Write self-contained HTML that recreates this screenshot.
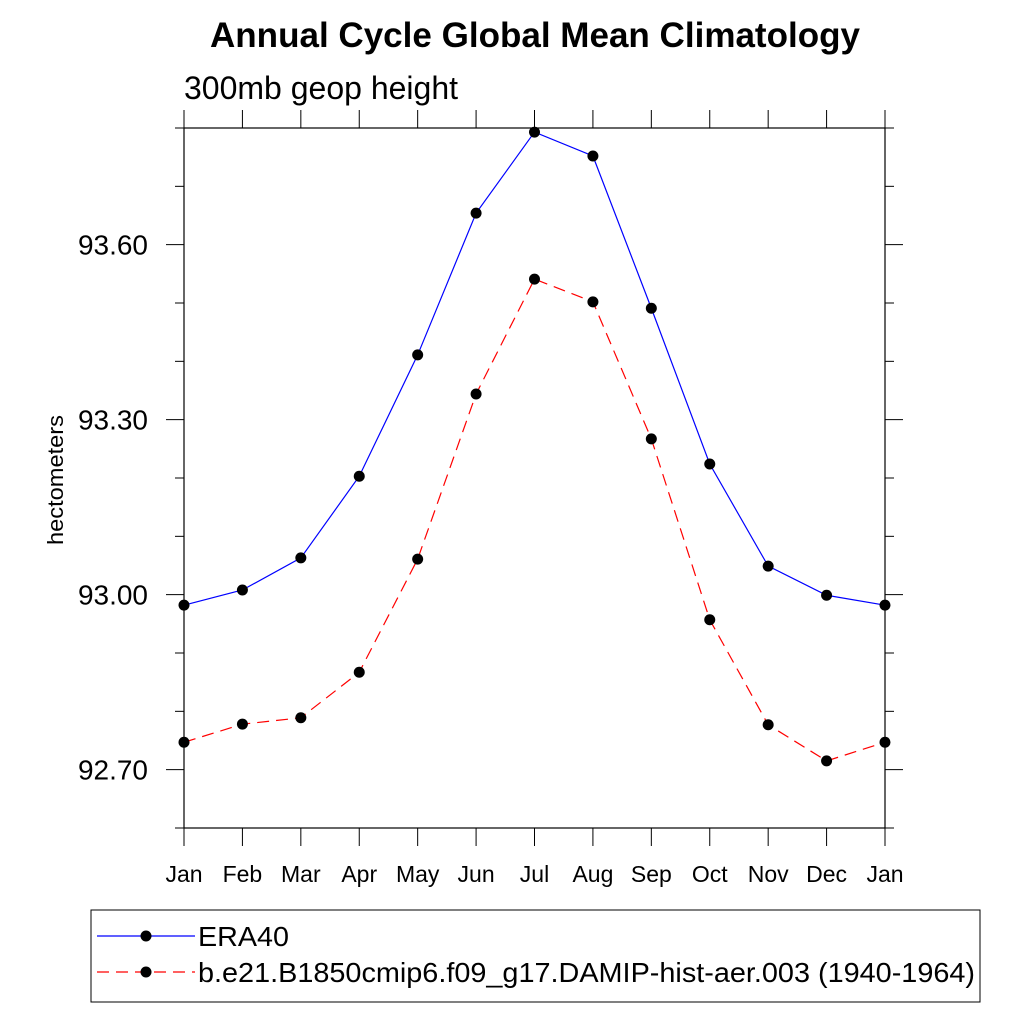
<!DOCTYPE html>
<html><head><meta charset="utf-8"><style>
body{margin:0;background:#fff;}
svg{display:block;font-family:"Liberation Sans",Arial,sans-serif;}
</style></head><body>
<svg id="chart" width="1024" height="1024">
<text x="210" y="47" font-size="35" font-weight="bold" textLength="650" lengthAdjust="spacingAndGlyphs">Annual Cycle Global Mean Climatology</text>
<text x="184" y="99" font-size="32" textLength="274" lengthAdjust="spacingAndGlyphs">300mb geop height</text>
<text transform="translate(63,480) rotate(-90)" text-anchor="middle" font-size="22" textLength="130" lengthAdjust="spacingAndGlyphs">hectometers</text>
<g id="axes"></g>
<g id="series"></g>
<rect x="91" y="910" width="889" height="92" fill="none" stroke="#000" stroke-width="1"/>
<g>
<line x1="97" y1="936" x2="195" y2="936" stroke="#0000ff" stroke-width="1.2"/>
<circle cx="146" cy="936" r="5.5" fill="#000"/>
<text x="198" y="946" font-size="28" textLength="91" lengthAdjust="spacingAndGlyphs">ERA40</text>
</g>
<g>
<line x1="97" y1="972" x2="195" y2="972" stroke="#ff0000" stroke-width="1.2" stroke-dasharray="12,7"/>
<circle cx="146" cy="972" r="5.5" fill="#000"/>
<text x="198" y="982" font-size="28" textLength="777" lengthAdjust="spacingAndGlyphs">b.e21.B1850cmip6.f09_g17.DAMIP-hist-aer.003 (1940-1964)</text>
</g>
</svg>
<script>
const months = ["Jan","Feb","Mar","Apr","May","Jun","Jul","Aug","Sep","Oct","Nov","Dec","Jan"];
const era40 = [92.982,93.008,93.063,93.203,93.411,93.654,93.793,93.752,93.491,93.224,93.049,92.999,92.982];
const model = [92.747,92.778,92.789,92.867,93.061,93.344,93.541,93.502,93.267,92.957,92.777,92.715,92.747];
const yTicks = [92.70,93.00,93.30,93.60];
const yMinor = [92.6,92.7,92.8,92.9,93.0,93.1,93.2,93.3,93.4,93.5,93.6,93.7,93.8];
const L=184,R=885,T=128,B=828,YMIN=92.6,YMAX=93.8;
const xs=i=>L+(R-L)*i/(months.length-1);
const ys=v=>B-(v-YMIN)/(YMAX-YMIN)*(B-T);
const NS="http://www.w3.org/2000/svg";
const axes=document.getElementById('axes'), ser=document.getElementById('series');
function mk(tag,attrs,parent){const e=document.createElementNS(NS,tag);for(const k in attrs)e.setAttribute(k,attrs[k]);parent.appendChild(e);return e;}
const frame=mk('rect',{x:L,y:T,width:R-L,height:B-T,fill:'none',stroke:'#000','stroke-width':1.2},axes);


yMinor.forEach(v=>{const y=ys(v);const major=yTicks.some(t=>Math.abs(t-v)<1e-6);const len=major?18:9;
 mk('line',{x1:L-len,y1:y,x2:L,y2:y,stroke:'#000'},axes);mk('line',{x1:R,y1:y,x2:R+len,y2:y,stroke:'#000'},axes);});
yTicks.forEach(v=>{const t=mk('text',{x:148,y:ys(v)+10,'text-anchor':'end','font-size':28,textLength:70,lengthAdjust:'spacingAndGlyphs'},axes);t.textContent=v.toFixed(2);
 
 });
months.forEach((m,i)=>{const x=xs(i);mk('line',{x1:x,y1:B,x2:x,y2:B+18,stroke:'#000'},axes);mk('line',{x1:x,y1:T-18,x2:x,y2:T,stroke:'#000'},axes);
 const t=mk('text',{x:x,y:882,'text-anchor':'middle','font-size':23},axes);t.textContent=m;
 
 });
function draw(vals,color,dash,name){
 const g=mk('g',{},ser);
 
 
 const p=mk('polyline',{points:vals.map((v,i)=>xs(i)+','+ys(v)).join(' '),fill:'none',stroke:color,'stroke-width':1.2},g);
 if(dash)p.setAttribute('stroke-dasharray',dash);
 vals.forEach((v,i)=>{const c=mk('circle',{cx:xs(i),cy:ys(v),r:5.5,fill:'#000'},g);
  
  });
}
draw(era40,'#0000ff',null,'series-era40');
draw(model,'#ff0000','12,7','series-model');
</script>
</body></html>
